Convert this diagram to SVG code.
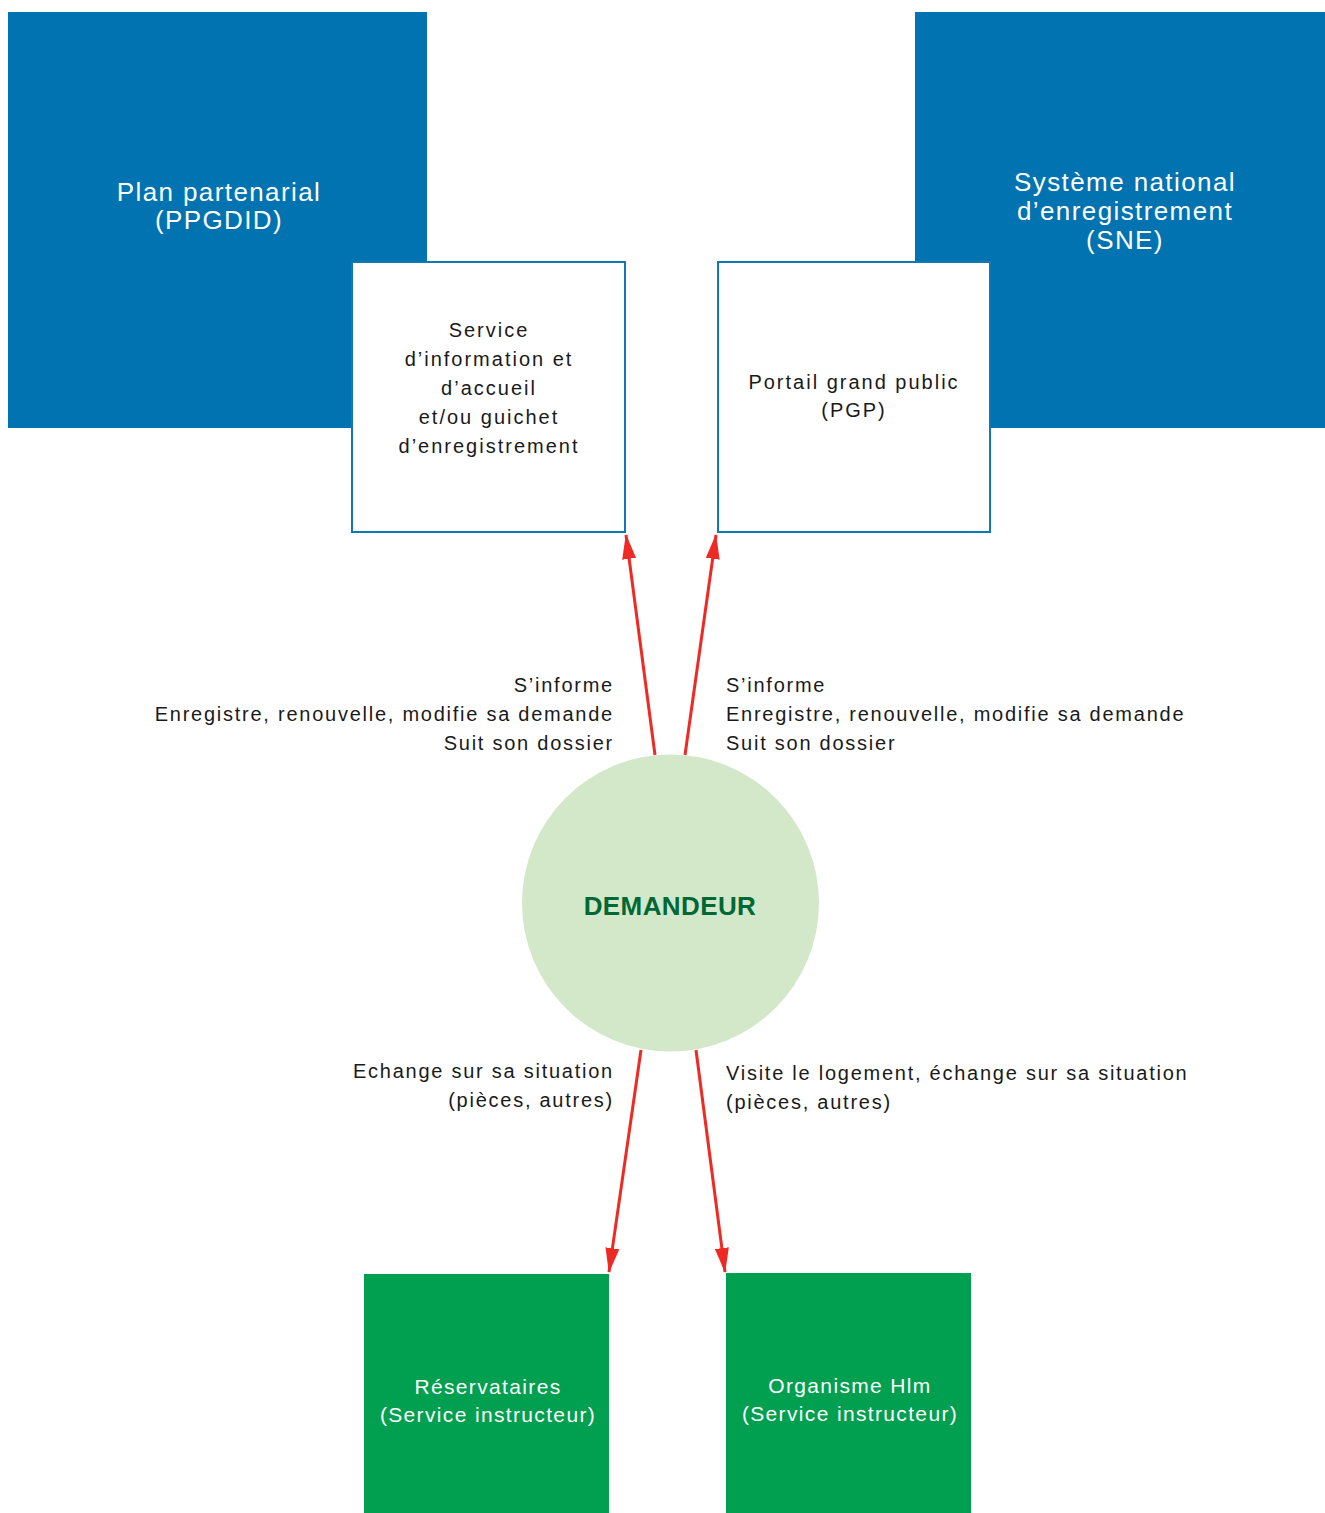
<svg xmlns="http://www.w3.org/2000/svg" width="1325" height="1513" viewBox="0 0 1325 1513">
<style>
.t{font-family:"Liberation Sans",Arial,sans-serif;font-size:20px;fill:#1a1a1a;letter-spacing:1.75px}
.b{font-family:"Liberation Sans",Arial,sans-serif;font-size:20px;fill:#1a1a1a;letter-spacing:2px;text-anchor:middle}
.w{font-family:"Liberation Sans",Arial,sans-serif;font-size:26px;fill:#ffffff;text-anchor:middle;letter-spacing:1.4px}
.wg{font-family:"Liberation Sans",Arial,sans-serif;font-size:21px;fill:#ffffff;text-anchor:middle;letter-spacing:1.35px}
.r{text-anchor:end}
.blue{fill:#0073B0}
.wbox{fill:#ffffff;stroke:#1277B5;stroke-width:2}
.gbox{fill:#00A050}
.arr{stroke:#EE2A24;stroke-width:3;fill:none;marker-end:url(#ah)}
</style>
<defs>
<marker id="ah" viewBox="0 0 25 14" refX="24" refY="7" markerWidth="25" markerHeight="14" orient="auto" markerUnits="userSpaceOnUse">
<path d="M0,0 L25,7 L0,14 Z" fill="#EE2A24"/>
</marker>
</defs>
<rect width="1325" height="1513" fill="#ffffff"/>
<g id="ppgdid">
<rect class="blue" x="8" y="12" width="419" height="416"/>
<text class="w" x="219" y="201">Plan partenarial</text>
<text class="w" x="219" y="229">(PPGDID)</text>
</g>
<g id="sne">
<rect class="blue" x="915" y="12" width="410" height="416"/>
<text class="w" x="1125" y="191">Système national</text>
<text class="w" x="1125" y="220">d’enregistrement</text>
<text class="w" x="1125" y="249">(SNE)</text>
</g>
<g id="service">
<rect class="wbox" x="352" y="262" width="273" height="270"/>
<text class="b" x="489" y="337">Service</text>
<text class="b" x="489" y="366">d’information et</text>
<text class="b" x="489" y="395">d’accueil</text>
<text class="b" x="489" y="424">et/ou guichet</text>
<text class="b" x="489" y="453">d’enregistrement</text>
</g>
<g id="pgp">
<rect class="wbox" x="718" y="262" width="272" height="270"/>
<text class="b" x="854" y="389">Portail grand public</text>
<text class="b" x="854" y="417">(PGP)</text>
</g>
<g id="demandeur">
<circle cx="670.5" cy="903" r="148.5" fill="#D3E8C9"/>
<text x="670" y="915" text-anchor="middle" style="font-family:'Liberation Sans',Arial,sans-serif;font-size:26px;font-weight:bold;fill:#006837;letter-spacing:0.4px">DEMANDEUR</text>
</g>
<g id="reservataires">
<rect class="gbox" x="364" y="1274" width="245" height="239"/>
<text class="wg" x="488" y="1394">Réservataires</text>
<text class="wg" x="488" y="1422">(Service instructeur)</text>
</g>
<g id="hlm">
<rect class="gbox" x="726" y="1273" width="245" height="240"/>
<text class="wg" x="850" y="1393">Organisme Hlm</text>
<text class="wg" x="850" y="1421">(Service instructeur)</text>
</g>
<g id="connectors">
<line class="arr" x1="655" y1="755" x2="626" y2="535"/>
<line class="arr" x1="685" y1="755" x2="716" y2="535"/>
<line class="arr" x1="641" y1="1050" x2="609" y2="1272"/>
<line class="arr" x1="696" y1="1050" x2="725" y2="1272"/>
</g>
<g id="labels">
<text class="t r" x="614" y="692">S’informe</text>
<text class="t r" x="614" y="721">Enregistre, renouvelle, modifie sa demande</text>
<text class="t r" x="614" y="750">Suit son dossier</text>
<text class="t" x="726" y="692">S’informe</text>
<text class="t" x="726" y="721">Enregistre, renouvelle, modifie sa demande</text>
<text class="t" x="726" y="750">Suit son dossier</text>
<text class="t r" x="614" y="1078">Echange sur sa situation</text>
<text class="t r" x="614" y="1107">(pièces, autres)</text>
<text class="t" x="726" y="1080">Visite le logement, échange sur sa situation</text>
<text class="t" x="726" y="1109">(pièces, autres)</text>
</g>
</svg>
